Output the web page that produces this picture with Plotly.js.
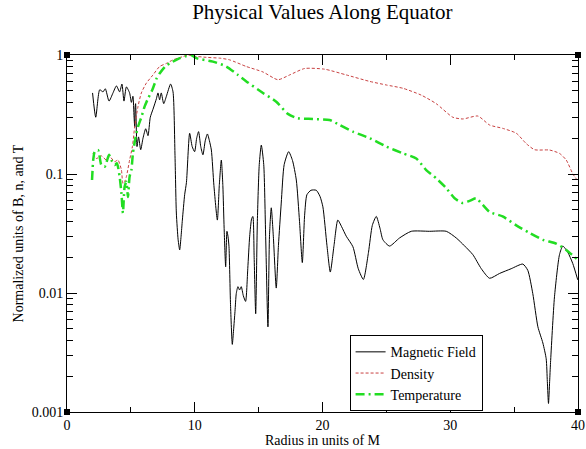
<!DOCTYPE html>
<html>
<head>
<meta charset="utf-8">
<script src="https://cdn.plot.ly/plotly-3.0.1.min.js"></script>
<style>html,body{margin:0;padding:0;background:#fff;}#chart{width:586px;height:449px;}</style>
</head>
<body>
<div id="chart"></div>
<script>
const bX = [2.0,2.25,2.56,2.82,3.0,3.29,3.6,3.87,4.12,4.3,4.46,4.65,4.9,5.04,5.16,5.25,5.3,5.33,5.37,5.48,5.6,5.77,5.95,6.16,6.34,6.52,6.73,7.0,7.12,7.25,7.38,7.57,7.78,8.11,8.3,8.45,8.56,8.7,8.82,8.93,9.03,9.21,9.35,9.6,9.8,9.99,10.15,10.3,10.47,10.64,10.82,10.99,11.15,11.3,11.5,11.77,11.92,12.08,12.2,12.3,12.42,12.52,12.6,12.68,12.8,12.94,13.04,13.15,13.25,13.38,13.51,13.64,13.8,13.98,14.15,14.3,14.45,14.55,14.65,14.77,14.9,15.05,15.21,15.4,15.55,15.73,15.85,15.99,16.15,16.38,16.55,16.77,17.0,17.35,17.65,17.95,18.2,18.42,18.6,18.78,19.1,19.51,19.8,20.03,20.35,20.61,20.9,21.2,21.5,21.86,22.38,22.8,23.2,23.6,23.9,24.21,24.5,24.73,25.25,26.03,26.95,28.38,29.69,30.47,31.1,31.77,32.43,33.08,33.86,34.77,35.68,36.07,36.46,36.86,37.25,37.51,37.6,37.69,37.78,37.85,38.16,38.55,38.81,39.2,39.59,39.98];
const bY = [0.48,0.30,0.51,0.49,0.52,0.41,0.48,0.55,0.49,0.57,0.41,0.54,0.48,0.40,0.45,0.30,0.25,0.36,0.39,0.17,0.205,0.16,0.20,0.24,0.21,0.30,0.35,0.43,0.48,0.42,0.48,0.39,0.45,0.57,0.49,0.15,0.047,0.028,0.023,0.030,0.041,0.067,0.085,0.22,0.17,0.154,0.20,0.227,0.17,0.145,0.19,0.217,0.19,0.159,0.08,0.041,0.08,0.131,0.08,0.035,0.0166,0.033,0.03,0.0245,0.008,0.0037,0.0049,0.007,0.0099,0.0113,0.0106,0.0113,0.0095,0.0085,0.016,0.030,0.042,0.044,0.02,0.0067,0.04,0.12,0.175,0.12,0.03,0.0052,0.03,0.052,0.03,0.011,0.025,0.057,0.12,0.154,0.13,0.089,0.04,0.018,0.045,0.067,0.073,0.073,0.065,0.053,0.025,0.015,0.025,0.041,0.036,0.030,0.0245,0.016,0.013,0.022,0.037,0.044,0.035,0.028,0.0248,0.029,0.033,0.033,0.033,0.029,0.025,0.021,0.016,0.0133,0.0146,0.016,0.0175,0.0155,0.0099,0.0052,0.0038,0.0028,0.0018,0.00118,0.0018,0.0026,0.0093,0.021,0.0248,0.022,0.0177,0.0129];

const nX = [2.03,2.3,2.69,3.08,3.34,3.73,3.99,4.26,4.38,4.51,4.65,4.9,5.12,5.3,5.56,5.82,6.21,6.73,7.25,7.78,8.3,9.08,9.5,9.86,10.9,12.0,12.73,14.04,15.34,16.51,17.43,18.6,20.16,21.86,23.69,24.99,26.3,27.73,28.9,30.2,30.99,32.16,33.08,34.1,35.17,35.95,36.6,37.77,38.55,39.08,39.6,39.9];
const nY = [0.149,0.135,0.142,0.131,0.14,0.127,0.131,0.108,0.083,0.086,0.095,0.131,0.17,0.25,0.37,0.48,0.58,0.68,0.80,0.85,0.91,0.97,1.0,0.98,0.956,0.94,0.91,0.80,0.72,0.62,0.68,0.77,0.76,0.68,0.60,0.56,0.525,0.46,0.39,0.30,0.29,0.307,0.258,0.242,0.22,0.18,0.16,0.159,0.149,0.131,0.10,0.09];

const tX = [1.96,2.05,2.17,2.43,2.69,2.95,3.29,3.47,3.73,3.91,4.12,4.26,4.38,4.51,4.65,4.77,4.9,5.04,5.16,5.37,5.56,5.82,6.08,6.34,6.68,7.0,7.25,7.78,8.04,8.82,9.34,9.7,10.12,11.42,12.47,13.38,14.04,15.34,16.38,17.29,18.07,19.25,20.55,21.34,22.38,23.69,24.99,26.3,27.34,28.12,28.9,29.69,30.34,30.99,31.51,32.03,32.55,33.08,34.1,35.17,36.2,37.25,38.29,39.08,39.98];
const tY = [0.089,0.13,0.154,0.159,0.119,0.115,0.145,0.131,0.119,0.123,0.095,0.069,0.047,0.078,0.086,0.064,0.095,0.108,0.149,0.205,0.25,0.30,0.37,0.43,0.51,0.63,0.70,0.82,0.85,0.94,0.98,1.0,0.94,0.88,0.80,0.68,0.60,0.48,0.405,0.32,0.294,0.29,0.284,0.258,0.227,0.20,0.17,0.149,0.135,0.108,0.092,0.076,0.0625,0.057,0.0595,0.0625,0.055,0.048,0.044,0.037,0.032,0.028,0.026,0.023,0.019];

const yTickVals = [0.001,0.01,0.1,1];
const yTickText = ["0.001","0.01","0.1","1"];
const yMinorVals = [0.002,0.003,0.004,0.005,0.006,0.007,0.008,0.009,0.02,0.03,0.04,0.05,0.06,0.07,0.08,0.09,0.2,0.3,0.4,0.5,0.6,0.7,0.8,0.9];

const font = "Liberation Serif, Times New Roman, serif";

const traces = [
  {x: bX, y: bY, mode: 'lines', name: 'Magnetic Field', line: {color: '#000000', width: 1, shape: 'spline', smoothing: 0.6}},
  {x: nX, y: nY, mode: 'lines', name: 'Density', line: {color: '#c84040', width: 1, dash: '3px,2px', shape: 'spline', smoothing: 0.6}},
  {x: tX, y: tY, mode: 'lines', name: 'Temperature', line: {color: '#22dd22', width: 2.5, dash: '9px,4px,2px,4px', shape: 'spline', smoothing: 0.6}}
];

function corner(px, py) {
  return {type: 'rect', xref: 'paper', yref: 'paper', xsizemode: 'pixel', ysizemode: 'pixel',
    xanchor: px, yanchor: py, x0: -3, x1: 3, y0: -3, y1: 3,
    fillcolor: '#000', line: {width: 0}};
}

const layout = {
  width: 586, height: 449,
  margin: {l: 67, r: 8, t: 55, b: 37},
  paper_bgcolor: '#fff', plot_bgcolor: '#fff',
  font: {family: font, size: 14, color: '#000'},
  title: {text: 'Physical Values Along Equator', font: {family: font, size: 21, color: '#000'}, x: 0.55, xanchor: 'center', y: 0.99, yanchor: 'top'},
  showlegend: true,
  legend: {x: 0.553, y: 0.215, xanchor: 'left', yanchor: 'top', bgcolor: '#fff', bordercolor: '#000', borderwidth: 1,
    font: {family: font, size: 14, color: '#000'}, tracegroupgap: 0},
  xaxis: {
    range: [0, 40], showgrid: false, zeroline: false,
    showline: true, linecolor: '#000', linewidth: 1, mirror: 'ticks',
    ticks: 'inside', ticklen: 10, tickcolor: '#000', tickwidth: 1,
    tick0: 0, dtick: 10, tickfont: {family: font, size: 14, color: '#000'},
    minor: {ticks: 'inside', ticklen: 5, tickcolor: '#000', tickwidth: 1, dtick: 5, tick0: 0, showgrid: false},
    title: {text: 'Radius in units of M', font: {family: font, size: 14, color: '#000'}, standoff: 1}
  },
  yaxis: {
    type: 'log', range: [-3, 0], showgrid: false, zeroline: false,
    showline: true, linecolor: '#000', linewidth: 1, mirror: 'ticks',
    ticks: 'inside', ticklen: 10, tickcolor: '#000', tickwidth: 1,
    tickmode: 'array', tickvals: yTickVals, ticktext: yTickText,
    tickfont: {family: font, size: 14, color: '#000'},
    minor: {ticks: 'inside', ticklen: 6, tickcolor: '#000', tickwidth: 1, tickmode: 'array', tickvals: yMinorVals, showgrid: false},
    title: {text: 'Normalized units of B, n, and T', font: {family: font, size: 14, color: '#000'}, standoff: 4}
  },
  shapes: [corner(0, 0), corner(1, 0), corner(0, 1), corner(1, 1)]
};

Plotly.newPlot('chart', traces, layout, {displayModeBar: false, staticPlot: true});
</script>
</body>
</html>
